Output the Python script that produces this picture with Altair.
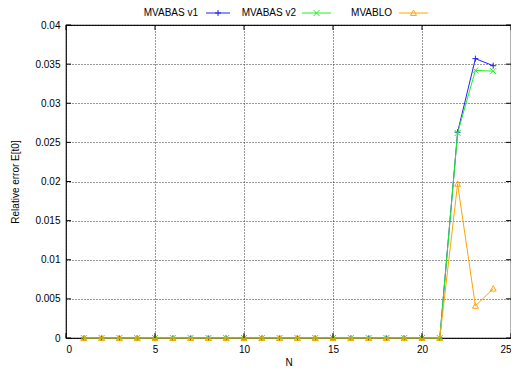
import altair as alt
import pandas as pd

# ---- data ----
N = [1, 2, 3, 4, 5, 6, 7, 8, 9, 10, 11, 12, 13, 14, 15, 16, 17, 18, 19, 20, 21, 22, 23, 24]
mvabas_v1 = [0, 0, 0, 0, 0, 0, 0, 0, 0, 0, 0, 0, 0, 0, 0, 0, 0, 0, 0, 0, 0, 0.0263, 0.0357, 0.0348]
mvabas_v2 = [0, 0, 0, 0, 0, 0, 0, 0, 0, 0, 0, 0, 0, 0, 0, 0, 0, 0, 0, 0, 0, 0.0262, 0.0342, 0.0341]
mvablo = [0, 0, 0, 0, 0, 0, 0, 0, 0, 0, 0, 0, 0, 0, 0, 0, 0, 0, 0, 0, 0, 0.0197, 0.0041, 0.0063]

series_names = ["MVABAS v1", "MVABAS v2", "MVABLO"]
series_values = [mvabas_v1, mvabas_v2, mvablo]
x_ticks = [0, 5, 10, 15, 20, 25]
y_ticks = [0, 0.005, 0.01, 0.015, 0.02, 0.025, 0.03, 0.035, 0.04]

# ---- styles ----
colors = ["#2020ff", "#22ee22", "#ffa500"]
shapes = ["M-1,0H1M0,-1V1", "M-1,-1L1,1M-1,1L1,-1", "M0,-1L1,0.8L-1,0.8Z"]
W, H = 445, 313
FONT = "Liberation Sans"
FS = 10

rows = []
for name, vals in zip(series_names, series_values):
    for n, v in zip(N, vals):
        rows.append({"N": n, "err": v, "series": name})
df = pd.DataFrame(rows)

xscale = alt.Scale(domain=[0, 25], nice=False, zero=False)
yscale = alt.Scale(domain=[0, 0.04], nice=False)

xaxis = alt.Axis(values=x_ticks, tickSize=0, domain=False, labelPadding=6,
                 grid=True, gridDash=[1, 2], gridColor="#333", gridWidth=1,
                 title="N", titlePadding=3)
yaxis = alt.Axis(values=y_ticks, format="~g", tickSize=0, domain=False, labelPadding=6,
                 grid=True, gridDash=[1, 2], gridColor="#333", gridWidth=1,
                 title="Relative error E[t0]", titlePadding=14)

X = alt.X("N:Q", scale=xscale, axis=xaxis)
Y = alt.Y("err:Q", scale=yscale, axis=yaxis)

layers = []
for i, name in enumerate(series_names):
    sub = df[df["series"] == name]
    layers.append(
        alt.Chart(sub).mark_line(strokeWidth=1, color=colors[i], clip=False).encode(x=X, y=Y)
    )
    layers.append(
        alt.Chart(sub).mark_point(filled=False, strokeWidth=1, size=36, opacity=1, clip=False).encode(
            x=X, y=Y, color=alt.value(colors[i]), shape=alt.value(shapes[i]),
        )
    )

# inward ticks on all four sides
xt = pd.DataFrame({"N": x_ticks})
yt = pd.DataFrame({"err": y_ticks})
tick_len = 5
layers.append(alt.Chart(xt).mark_rule(color="black", strokeWidth=1).encode(
    x=X, y=alt.value(H), y2=alt.value(H - tick_len)))
layers.append(alt.Chart(xt).mark_rule(color="black", strokeWidth=1).encode(
    x=X, y=alt.value(0), y2=alt.value(tick_len)))
layers.append(alt.Chart(yt).mark_rule(color="black", strokeWidth=1).encode(
    y=Y, x=alt.value(0), x2=alt.value(tick_len)))
layers.append(alt.Chart(yt).mark_rule(color="black", strokeWidth=1).encode(
    y=Y, x=alt.value(W), x2=alt.value(W - tick_len)))

# key (gnuplot style: label then sample)
key_text_end = [132, 230, 326]
key_line = [(140, 164), (236, 265), (333, 362)]
key_y = -12
one = alt.Data(values=[{}])
for i, name in enumerate(series_names):
    layers.append(alt.Chart(one).mark_text(align="right", baseline="middle", font=FONT,
                                           fontSize=FS, color="black").encode(
        x=alt.value(key_text_end[i]), y=alt.value(key_y), text=alt.value(name)))
    layers.append(alt.Chart(one).mark_rule(color=colors[i], strokeWidth=1).encode(
        x=alt.value(key_line[i][0]), x2=alt.value(key_line[i][1]), y=alt.value(key_y)))
    layers.append(alt.Chart(one).mark_point(filled=False, strokeWidth=1, size=36, opacity=1).encode(
        x=alt.value((key_line[i][0] + key_line[i][1]) / 2), y=alt.value(key_y),
        color=alt.value(colors[i]), shape=alt.value(shapes[i])))

chart = alt.layer(*layers).properties(
    width=W, height=H, autosize="none",
    padding={"left": 58, "top": 17, "right": 0, "bottom": 29},
).configure_view(stroke="black", strokeWidth=1.2).configure_axis(
    labelFont=FONT, titleFont=FONT, labelFontSize=FS, titleFontSize=FS,
    titleFontWeight="normal", labelColor="black", titleColor="black",
)

chart.save("out.html", embed_options={"renderer": "svg", "actions": False})
